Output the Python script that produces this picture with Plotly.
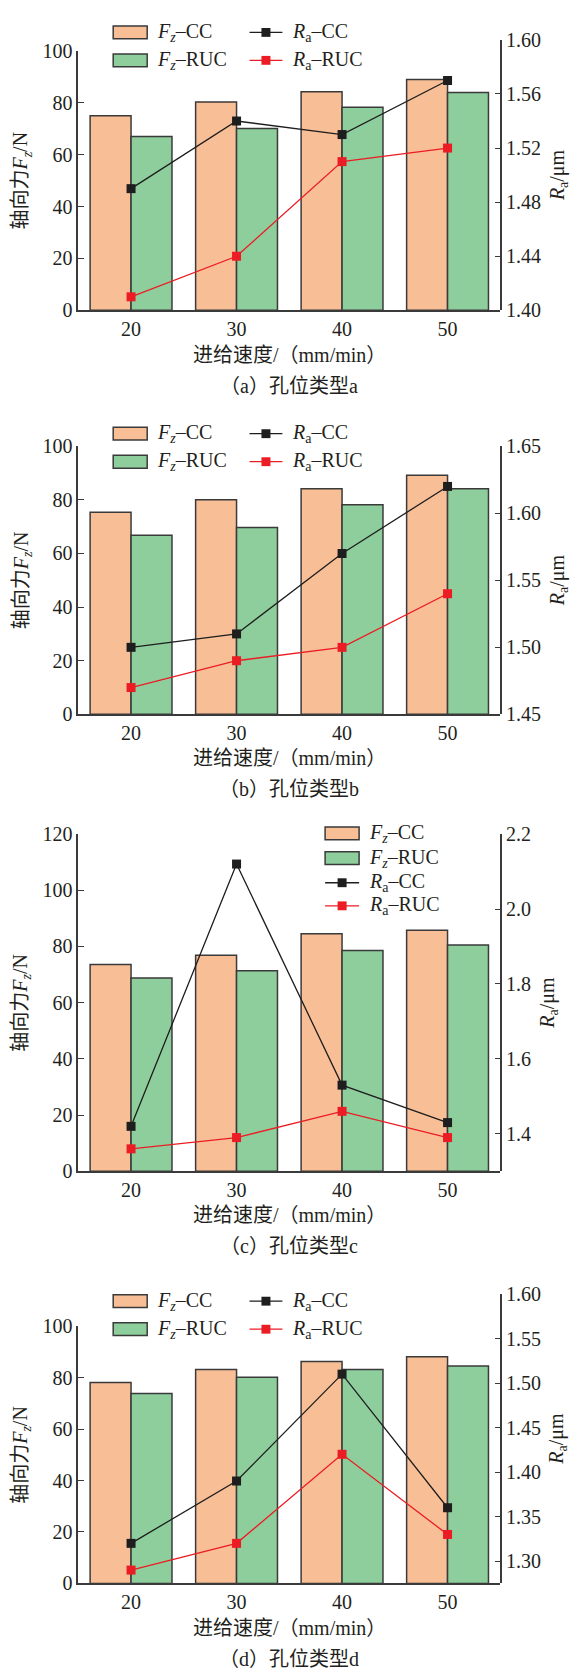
import plotly.graph_objects as go

# ---------------- data ----------------
feed = ["20", "30", "40", "50"]

fz_cc_a = [75.0, 80.3, 84.2, 88.9]
fz_ruc_a = [67.0, 70.1, 78.2, 83.9]
ra_cc_a = [1.49, 1.54, 1.53, 1.57]
ra_ruc_a = [1.41, 1.44, 1.51, 1.52]

fz_cc_b = [75.4, 80.0, 84.1, 89.2]
fz_ruc_b = [66.8, 69.7, 78.2, 84.1]
ra_cc_b = [1.50, 1.51, 1.57, 1.62]
ra_ruc_b = [1.47, 1.49, 1.50, 1.54]

fz_cc_c = [73.6, 76.9, 84.5, 85.8]
fz_ruc_c = [68.8, 71.4, 78.6, 80.5]
ra_cc_c = [1.42, 2.12, 1.53, 1.43]
ra_ruc_c = [1.36, 1.39, 1.46, 1.39]

fz_cc_d = [78.1, 83.2, 86.3, 88.1]
fz_ruc_d = [73.9, 80.2, 83.2, 84.5]
ra_cc_d = [1.32, 1.39, 1.51, 1.36]
ra_ruc_d = [1.29, 1.32, 1.42, 1.33]

captions = ["（a）孔位类型a", "（b）孔位类型b", "（c）孔位类型c", "（d）孔位类型d"]
x_title = "进给速度/（mm/min）"
yl_title = "轴向力<i>F</i><sub><i>z</i></sub>/N"
yr_title = "<i>R</i><sub>a</sub>/μm"
leg_names = ["<i>F</i><sub><i>z</i></sub>–CC", "<i>F</i><sub><i>z</i></sub>–RUC",
             "<i>R</i><sub>a</sub>–CC", "<i>R</i><sub>a</sub>–RUC"]

# ---------------- style ----------------
W, H = 572, 1680
FONT = "'Liberation Serif', 'Times New Roman', 'Noto Sans CJK SC', serif"
TXT = "#231f20"
ORANGE = "#F8BE96"
GREEN = "#8ECE9C"
EDGE = "#3a3a3a"
BLACK = "#1e1e1e"
RED = "#EC1C24"
FS = 20

def X(px):
    return px / W

def Y(py):
    return 1 - py / H

XL, XR = 78.3, 500.3

panels = [
    dict(fzc=fz_cc_a, fzr=fz_ruc_a, rac=ra_cc_a, rar=ra_ruc_a,
         bot=303.3, topl=40.3, topr=29.3, ylr=[0, 100], ylt=list(range(0, 101, 20)),
         yrr=[1.40, 1.60], yrt=[1.40, 1.44, 1.48, 1.52, 1.56, 1.60], fmt=".2f",
         leg="two", rows=[21.7, 50.0], xt=348.3, cap=380.0, rx=558),
    dict(fzc=fz_cc_b, fzr=fz_ruc_b, rac=ra_cc_b, rar=ra_ruc_b,
         bot=712.7, topl=441.0, topr=441.0, ylr=[0, 100], ylt=list(range(0, 101, 20)),
         yrr=[1.45, 1.65], yrt=[1.45, 1.50, 1.55, 1.60, 1.65], fmt=".2f",
         leg="two", rows=[428.3, 456.7], xt=757.3, cap=788.3, rx=558),
    dict(fzc=fz_cc_c, fzr=fz_ruc_c, rac=ra_cc_c, rar=ra_ruc_c,
         bot=1175.7, topl=834.0, topr=834.0, ylr=[0, 120], ylt=list(range(0, 121, 20)),
         yrr=[1.30, 2.20], yrt=[1.4, 1.6, 1.8, 2.0, 2.2], fmt=".1f",
         leg="one", rows=[833.3, 858.3, 883.3, 906.7], xt=1220.0, cap=1251.7, rx=549),
    dict(fzc=fz_cc_d, fzr=fz_ruc_d, rac=ra_cc_d, rar=ra_ruc_d,
         bot=1593.3, topl=1332.7, topr=1300.0, ylr=[0, 100], ylt=list(range(0, 101, 20)),
         yrr=[1.275, 1.60], yrt=[1.30, 1.35, 1.40, 1.45, 1.50, 1.55, 1.60], fmt=".2f",
         leg="two", rows=[1307.3, 1335.7], xt=1638.3, cap=1670.0, rx=558),
]

fig = go.Figure()
layout = {}
shapes = []
annotations = []

tickfont = dict(family=FONT, size=FS, color=TXT)

for i, p in enumerate(panels):
    xn = i + 1
    yl = 2 * i + 1
    yr = 2 * i + 2
    xs = "x" if xn == 1 else f"x{xn}"
    yls = "y" if yl == 1 else f"y{yl}"
    yrs = f"y{yr}"

    fig.add_trace(go.Bar(x=feed, y=p["fzc"], xaxis=xs, yaxis=yls, name="Fz-CC",
                         marker=dict(color=ORANGE, line=dict(color=EDGE, width=1.5)),
                         showlegend=False))
    fig.add_trace(go.Bar(x=feed, y=p["fzr"], xaxis=xs, yaxis=yls, name="Fz-RUC",
                         marker=dict(color=GREEN, line=dict(color=EDGE, width=1.5)),
                         showlegend=False))
    fig.add_trace(go.Scatter(x=feed, y=p["rac"], xaxis=xs, yaxis=yrs, name="Ra-CC",
                             mode="lines+markers", cliponaxis=False,
                             line=dict(color=BLACK, width=1.3),
                             marker=dict(symbol="square", size=9, color=BLACK),
                             showlegend=False))
    fig.add_trace(go.Scatter(x=feed, y=p["rar"], xaxis=xs, yaxis=yrs, name="Ra-RUC",
                             mode="lines+markers", cliponaxis=False,
                             line=dict(color=RED, width=1.3),
                             marker=dict(symbol="square", size=9, color=RED),
                             showlegend=False))

    xkey = "xaxis" if xn == 1 else f"xaxis{xn}"
    ylkey = "yaxis" if yl == 1 else f"yaxis{yl}"
    yrkey = f"yaxis{yr}"

    layout[xkey] = dict(domain=[X(XL), X(XR)], anchor=yls, type="category",
                        range=[-0.5, 3.5], showline=True, linecolor=EDGE, linewidth=1.5,
                        ticks="", showgrid=False, zeroline=False, tickfont=tickfont,
                        fixedrange=True)
    layout[ylkey] = dict(domain=[Y(p["bot"]), Y(p["topl"])], anchor=xs,
                         range=p["ylr"], tickvals=p["ylt"], ticks="inside", ticklen=6,
                         tickwidth=1.3, tickcolor=EDGE, showline=True, linecolor=EDGE,
                         linewidth=1.5, showgrid=False, zeroline=False, tickfont=tickfont,
                         fixedrange=True)
    layout[yrkey] = dict(domain=[Y(p["bot"]), Y(p["topr"])], anchor=xs, side="right",
                         range=p["yrr"], tickvals=p["yrt"], tickformat=p["fmt"],
                         ticks="inside", ticklen=6, tickwidth=1.3, tickcolor=EDGE,
                         showline=True, linecolor=EDGE, linewidth=1.5, showgrid=False,
                         zeroline=False, tickfont=tickfont, fixedrange=True)

    # titles
    annotations.append(dict(text=x_title, x=X((XL + XR) / 2), y=Y(p["xt"]), xref="paper",
                            yref="paper", xanchor="center", yanchor="middle", showarrow=False,
                            font=dict(family=FONT, size=FS, color=TXT)))
    annotations.append(dict(text=captions[i], x=X((XL + XR) / 2), y=Y(p["cap"]), xref="paper",
                            yref="paper", xanchor="center", yanchor="middle", showarrow=False,
                            font=dict(family=FONT, size=FS, color=TXT)))
    annotations.append(dict(text=yl_title, x=X(22), y=Y((p["bot"] + p["topl"]) / 2),
                            xref="paper", yref="paper", xanchor="center", yanchor="middle",
                            textangle=-90, showarrow=False,
                            font=dict(family=FONT, size=FS, color=TXT)))
    annotations.append(dict(text=yr_title, x=X(p["rx"]), y=Y((p["bot"] + p["topr"]) / 2),
                            xref="paper", yref="paper", xanchor="center", yanchor="middle",
                            textangle=-90, showarrow=False,
                            font=dict(family=FONT, size=FS, color=TXT)))

    # legend (drawn as swatches + text)
    if p["leg"] == "two":
        items = [
            ("box", ORANGE, 113.2, 147.2, 155.3, p["rows"][0], leg_names[0]),
            ("box", GREEN, 113.2, 147.2, 155.3, p["rows"][1], leg_names[1]),
            ("line", BLACK, 249.5, 282.4, 290.4, p["rows"][0], leg_names[2]),
            ("line", RED, 249.5, 282.4, 290.4, p["rows"][1], leg_names[3]),
        ]
    else:
        items = [
            ("box", ORANGE, 325.1, 359.1, 367.1, p["rows"][0], leg_names[0]),
            ("box", GREEN, 325.1, 359.1, 367.1, p["rows"][1], leg_names[1]),
            ("line", BLACK, 325.1, 359.1, 367.1, p["rows"][2], leg_names[2]),
            ("line", RED, 325.1, 359.1, 367.1, p["rows"][3], leg_names[3]),
        ]
    for kind, col, x0, x1, tx, ry, name in items:
        if kind == "box":
            shapes.append(dict(type="rect", xref="paper", yref="paper",
                               x0=X(x0), x1=X(x1), y0=Y(ry + 6.5), y1=Y(ry - 6.5),
                               fillcolor=col, line=dict(color=EDGE, width=1.5)))
        else:
            shapes.append(dict(type="line", xref="paper", yref="paper",
                               x0=X(x0), x1=X(x1), y0=Y(ry), y1=Y(ry),
                               line=dict(color=col, width=1.3)))
            xm = (x0 + x1) / 2
            shapes.append(dict(type="rect", xref="paper", yref="paper",
                               x0=X(xm - 4.5), x1=X(xm + 4.5), y0=Y(ry + 4.5), y1=Y(ry - 4.5),
                               fillcolor=col, line=dict(color=col, width=0)))
        annotations.append(dict(text=name, x=X(tx), y=Y(ry), xref="paper", yref="paper",
                                xanchor="left", yanchor="middle", showarrow=False,
                                font=dict(family=FONT, size=FS, color=TXT)))

fig.update_layout(
    autosize=True, margin=dict(l=0, r=0, t=0, b=0, pad=0),
    paper_bgcolor="white", plot_bgcolor="rgba(0,0,0,0)",
    barmode="group", bargap=0.224, bargroupgap=0.0,
    showlegend=False, font=dict(family=FONT, size=FS, color=TXT),
    shapes=shapes, annotations=annotations,
    **layout,
)

fig.write_html(
    "out.html",
    config={"displayModeBar": False},
    default_width=f"{W}px",
    default_height=f"{H}px; position:absolute; left:0px; top:0px",
    post_script="document.body.style.margin='0';document.body.style.padding='0';",
)
